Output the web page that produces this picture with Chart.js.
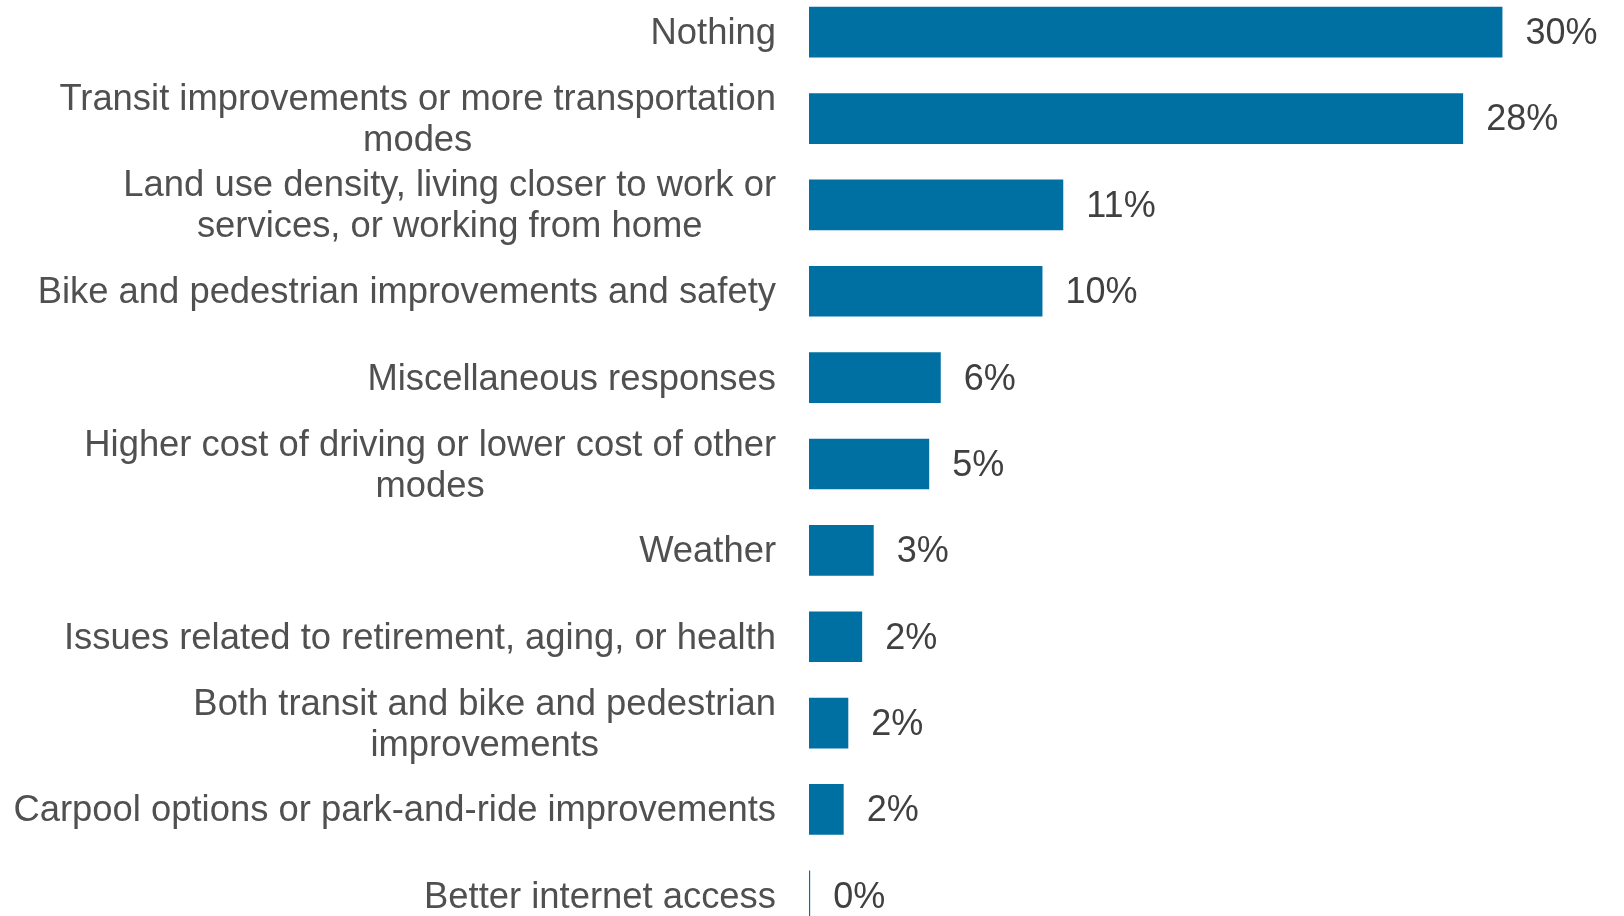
<!DOCTYPE html>
<html>
<head>
<meta charset="utf-8">
<script src="https://cdn.jsdelivr.net/npm/chart.js@4"></script>
<style>
  html, body { margin: 0; padding: 0; background: #fff; overflow: hidden; }
  body { width: 1624px; height: 916px; position: relative; }
  #wrap { position: absolute; left: 0; top: -11px; width: 1624px; height: 950px; }
</style>
</head>
<body>
<div id="wrap"><canvas id="myChart"></canvas></div>
<script>
const categories = [
    ['Nothing'],
    ['Transit improvements or more transportation', 'modes'],
    ['Land use density, living closer to work or', 'services, or working from home'],
    ['Bike and pedestrian improvements and safety'],
    ['Miscellaneous responses'],
    ['Higher cost of driving or lower cost of other', 'modes'],
    ['Weather'],
    ['Issues related to retirement, aging, or health'],
    ['Both transit and bike and pedestrian', 'improvements'],
    ['Carpool options or park-and-ride improvements'],
    ['Better internet access']
];
const shares = [30.0, 28.3, 11.0, 10.1, 5.7, 5.2, 2.8, 2.3, 1.7, 1.5, 0.05];

const FONT = '"Liberation Sans", Arial, sans-serif';

// draws the category text (centred lines, block right-aligned) and the value labels
const labelPlugin = {
    id: 'bar-labels',
    afterDatasetsDraw(chart) {
        const ctx = chart.ctx;
        const yScale = chart.scales.y;
        const meta = chart.getDatasetMeta(0);
        const right = 776;
        const lineH = 41;

        ctx.save();
        ctx.textBaseline = 'middle';

        ctx.font = '36.4px ' + FONT;
        ctx.fillStyle = '#505050';
        ctx.textAlign = 'center';
        categories.forEach((lines, i) => {
            const y = yScale.getPixelForTick(i) + 2;
            const w = Math.max(...lines.map(l => ctx.measureText(l).width));
            const cx = right - w / 2;
            const y0 = y - (lines.length - 1) * lineH / 2;
            lines.forEach((l, k) => ctx.fillText(l, cx, y0 + k * lineH));
        });

        ctx.font = '36px ' + FONT;
        ctx.fillStyle = '#404040';
        ctx.textAlign = 'left';
        meta.data.forEach((bar, i) => {
            ctx.fillText(Math.round(shares[i]) + '%', bar.x + 23, bar.y + 2);
        });
        ctx.restore();
    }
};

new Chart(document.getElementById('myChart'), {
    type: 'bar',
    data: {
        labels: categories.map(c => c.join(' ')),
        datasets: [{
            data: shares,
            backgroundColor: '#006FA2',
            borderWidth: 0,
            barPercentage: 0.587,
            categoryPercentage: 1
        }]
    },
    options: {
        indexAxis: 'y',
        responsive: true,
        maintainAspectRatio: false,
        animation: false,
        layout: { padding: { left: 809, right: 6, top: 0, bottom: 0 } },
        scales: {
            x: { display: false, min: 0, max: 35 },
            y: { display: false }
        },
        plugins: {
            legend: { display: false },
            tooltip: { enabled: false }
        }
    },
    plugins: [labelPlugin]
});
</script>
</body>
</html>
